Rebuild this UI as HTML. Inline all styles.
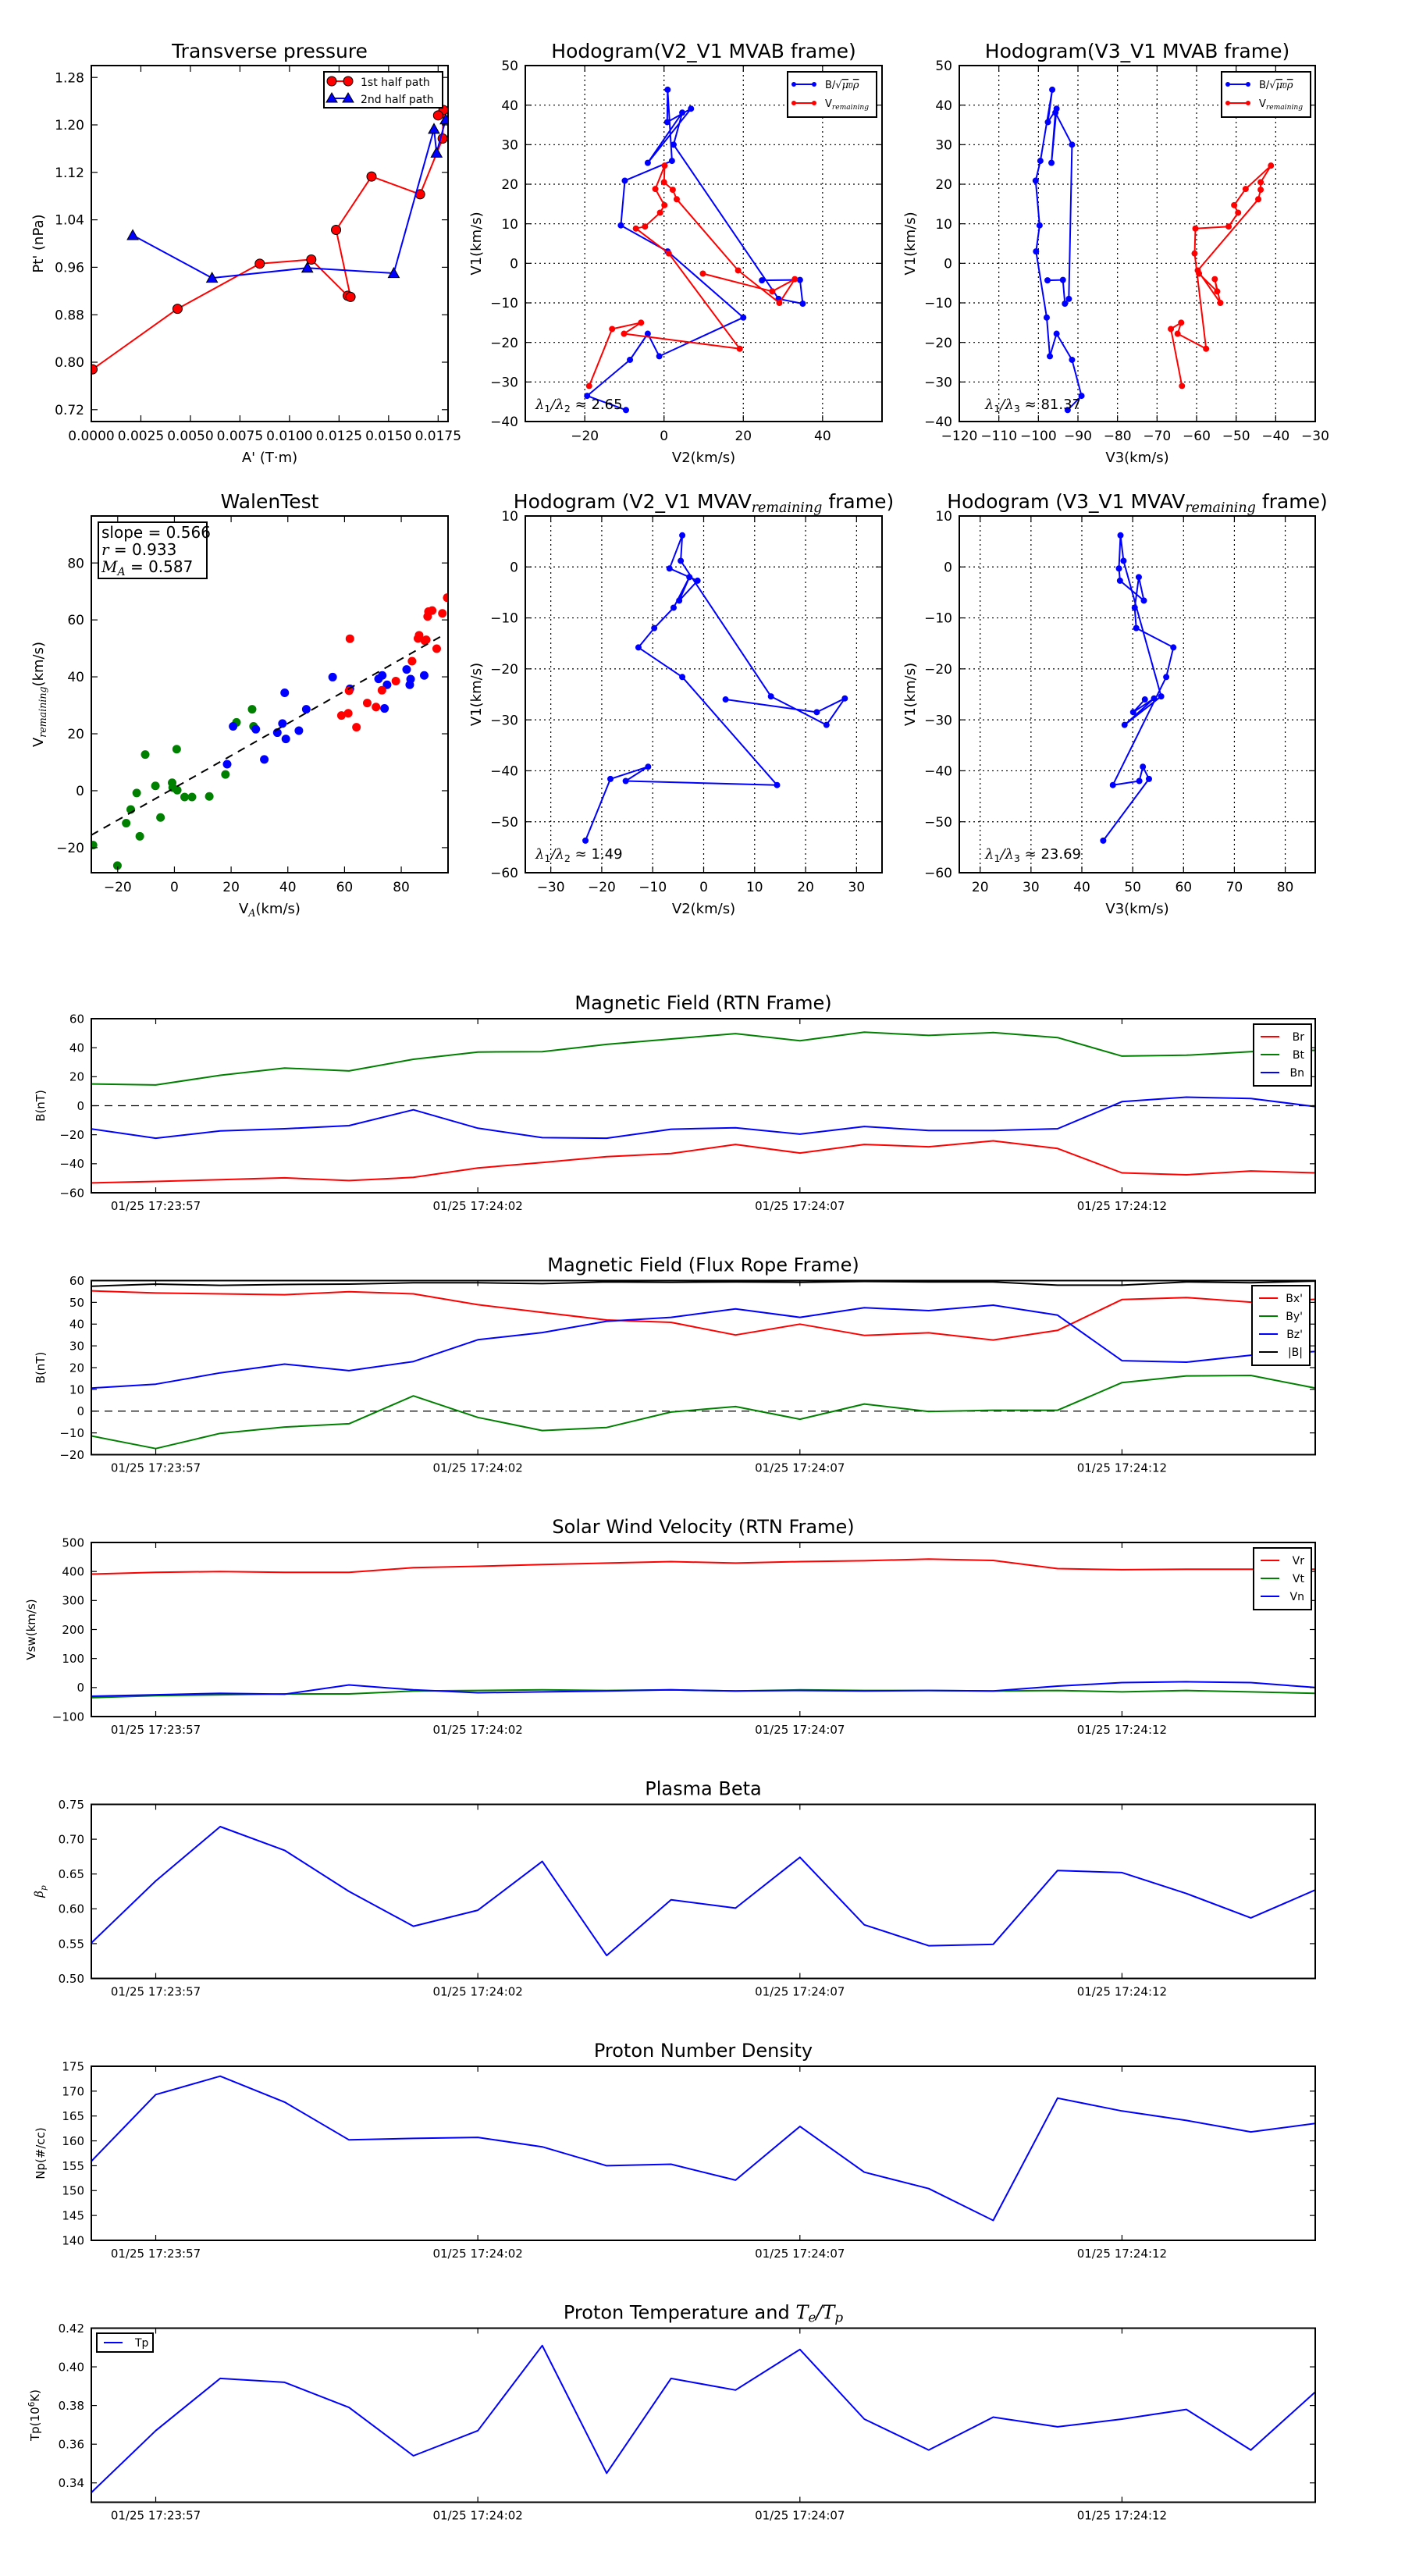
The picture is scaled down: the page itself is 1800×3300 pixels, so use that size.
<!DOCTYPE html>
<html><head><meta charset="utf-8"><title>Flux rope analysis</title>
<style>
html,body{margin:0;padding:0;background:#fff;}
svg{display:block;font-family:"DejaVu Sans","Liberation Sans",sans-serif;}
.m{font-family:"DejaVu Serif","Liberation Serif",serif;font-style:italic;}
</style></head>
<body>
<svg id="fig" xmlns="http://www.w3.org/2000/svg" width="1800" height="3300" viewBox="0 0 1800 3300">
<rect x="0" y="0" width="1800" height="3300" fill="#fff"/>
</svg>
<script>
// ---------- Transverse pressure ----------
const ptRedA = [0.00006,0.00435,0.0085,0.0111,0.01294,0.01308,0.01235,0.01414,0.01659,0.01773,0.01777,0.0175];
const ptRedP = [0.788,0.890,0.966,0.973,0.912,0.910,1.023,1.113,1.083,1.177,1.225,1.216];
const ptBlueA = [0.00209,0.00609,0.0109,0.01526,0.01729,0.01742,0.01788];
const ptBlueP = [1.014,0.942,0.959,0.950,1.193,1.153,1.209];
// ---------- Hodogram MVAB ----------
const mvabBV1 = [-4.3,-4.2,-10.2,-9.0,30.0,38.1,25.4,39.1,35.7,43.9,25.9,20.9,9.6,3.0,-13.7,-23.5,-17.8,-24.4,-33.5,-37.1];
const mvabBV2 = [24.7,34.3,35.0,28.9,2.4,4.6,-4.1,6.8,0.8,0.9,2.0,-9.9,-10.9,0.9,20.0,-1.2,-4.1,-8.6,-19.4,-9.6];
const mvabBV3 = [-97.7,-93.8,-93.3,-92.3,-91.5,-95.7,-96.7,-95.4,-97.6,-96.5,-99.5,-100.7,-99.7,-100.6,-97.9,-97.1,-95.4,-91.5,-89.1,-92.6];
const mvabVV1 = [-2.6,-7.1,-4.0,-10,-1.8,16.2,18.6,20.5,24.7,18.8,14.7,12.8,9.3,8.8,2.5,-21.6,-17.8,-15,-16.6,-31];
const mvabVV2 = [9.8,27.3,33,29.1,18.7,3.2,2.2,0.0,0.15,-2.2,0.1,-1.0,-4.8,-7.1,1.2,19.1,-10.1,-5.8,-13.1,-18.9];
const mvabVV3 = [-59.4,-54.8,-55.4,-54.0,-59.7,-44.4,-43.8,-43.8,-41.2,-47.6,-50.5,-49.5,-51.9,-60.3,-60.5,-57.6,-64.8,-63.9,-66.5,-63.7];
// ---------- Hodogram MVAV ----------
const mvavV1 = [-26.0,-28.5,-25.8,-31.0,-25.4,1.2,6.2,-0.3,-2.7,-6.6,-2.0,-8.0,-12.0,-15.8,-21.6,-42.8,-42.0,-39.2,-41.6,-53.7];
const mvavV2 = [4.3,22.2,27.7,24.1,13.2,-4.5,-4.2,-6.7,-1.2,-4.8,-2.8,-5.9,-9.7,-12.8,-4.2,14.4,-15.3,-10.9,-18.3,-23.2];
const mvavV3 = [52.4,50.1,54.2,48.4,55.6,48.2,47.6,47.3,47.5,52.2,51.2,50.4,50.7,58.0,56.6,46.1,51.3,52.0,53.2,44.2];
// ---------- Walen test ----------
const walenGreenX = [-28.7,-20.1,-17,-15.4,-13.3,-12.2,-10.3,-6.7,-4.9,-0.8,-0.6,0.8,1,3.6,6.2,12.3,18,21.9,27.4,27.9];
const walenGreenY = [-19.1,-26.3,-11.4,-6.6,-0.8,-16,12.7,1.7,-9.4,2.8,1.1,14.6,0.2,-2.2,-2.2,-2,5.7,24,28.6,22.6];
const walenBlueX = [18.6,20.7,28.7,31.7,36.3,38.1,38.9,39.3,43.9,46.5,55.8,61.9,72,73.3,74.1,75,81.9,83,83.3,88.1];
const walenBlueY = [9.3,22.6,21.6,11,20.4,23.6,34.4,18.2,21.1,28.6,39.9,35.8,39.3,40.5,28.9,37.2,42.6,37.2,39.2,40.5];
const walenRedX = [58.9,61.3,61.6,61.9,64.2,68,71.1,73.2,78.1,83.8,85.9,86.3,88.3,88.8,89.3,89.6,90.9,92.5,94.5,96.2];
const walenRedY = [26.4,27.2,35.1,53.4,22.3,30.8,29.4,35.3,38.5,45.5,53.5,54.6,52.7,53,61.2,62.9,63.3,49.9,62.3,67.8];
const walenSlope = [0.566];
const walenIntercept = [1.0];
// ---------- Time series ----------
const tSec = [56,57,58,59,60,61,62,63,64,65,66,67,68,69,70,71,72,73,74,75];
const timeTickSec = [57,62,67,72];
const timeTickLabels = ["01/25 17:23:57","01/25 17:24:02","01/25 17:24:07","01/25 17:24:12"];
const bRtnBr = [-53.2,-52.2,-51,-49.7,-51.6,-49.4,-42.9,-39.2,-35.1,-33,-26.7,-32.6,-26.7,-28.3,-24.2,-29.5,-46.3,-47.6,-45,-46.3];
const bRtnBt = [15,14.3,21,26,24,32,37,37.3,42.3,46,49.7,44.8,50.7,48.5,50.4,47,34.2,34.8,37.3,38.2];
const bRtnBn = [-16,-22.4,-17.4,-15.9,-13.7,-2.8,-15.5,-22,-22.4,-16.2,-15.2,-19.6,-14.3,-17.1,-17.1,-15.9,2.8,5.9,5,-0.6];
const bFrBx = [55.3,54.3,53.9,53.5,54.9,53.9,48.9,45.4,41.9,40.8,35,40,34.8,36,32.7,37.1,51.3,52.2,50.1,51.4];
const bFrBy = [-11.4,-17.2,-10.2,-7.3,-5.8,7,-2.9,-8.9,-7.5,-0.4,2.1,-3.7,3.3,-0.2,0.4,0.4,13.1,16.2,16.4,10.6];
const bFrBz = [10.6,12.4,17.6,21.6,18.6,22.8,32.8,36.1,41.3,43.1,47,43.1,47.5,46.2,48.7,44.1,23.2,22.5,25.7,27.4];
const bFrBt = [57.4,58.4,57.8,58.2,58.4,59,59,58.6,59.4,59.2,59.4,59.2,59.6,59.4,59.4,57.9,57.9,59.4,59,59.8];
const velVr = [391,397,400,397,397,413,418,424,429,434,429,434,437,443,438,410,406,408,408,408];
const velVt = [-35,-28,-25,-22,-22,-12,-10,-8,-10,-8,-12,-8,-10,-10,-12,-10,-15,-10,-15,-20];
const velVn = [-30,-25,-20,-23,9,-8,-18,-15,-12,-8,-12,-10,-12,-10,-12,5,17,20,17,0];
const betaP = [0.551,0.640,0.718,0.684,0.625,0.575,0.598,0.668,0.533,0.613,0.601,0.674,0.577,0.547,0.549,0.655,0.652,0.622,0.587,0.627];
const densNp = [155.9,169.3,173,167.8,160.2,160.5,160.7,158.8,155,155.3,152.1,162.9,153.7,150.4,144,168.6,166,164.1,161.8,163.5];
const tempTp = [0.335,0.367,0.394,0.392,0.379,0.354,0.367,0.411,0.345,0.394,0.388,0.409,0.373,0.357,0.374,0.369,0.373,0.378,0.357,0.387];

const NS = 'http://www.w3.org/2000/svg';
const svg = document.getElementById('fig');
function mk(tag, attrs, parent){
  const e = document.createElementNS(NS, tag);
  for (const k in attrs) e.setAttribute(k, attrs[k]);
  (parent || svg).appendChild(e);
  return e;
}
function lin(d0,d1,r0,r1){ return v => r0 + (v-d0)/(d1-d0)*(r1-r0); }
function range(a,b,s){ const r=[]; for(let v=a; v<=b+s*1e-6; v+=s) r.push(+v.toFixed(6)); return r; }
function fmtNum(v, d){ const s = Math.abs(v).toFixed(d); return (v < -1e-9 ? '\u2212' : '') + s; }

function axes(o){
  const g = mk('g', {});
  
  
  const sx = lin(o.xmin, o.xmax, o.x0, o.x1);
  const sy = lin(o.ymin, o.ymax, o.y1, o.y0);
  const cid = 'clip-' + o.name;
  const cp = mk('clipPath', {id: cid}, g);
  mk('rect', {x:o.x0, y:o.y0, width:o.x1-o.x0, height:o.y1-o.y0}, cp);
  const tl = o.tickLen || 8;
  if (o.grid){
    const gg = mk('g', {stroke:'#000', 'stroke-width':1.2, 'stroke-dasharray':'2,4'}, g);
    
    
    o.xticks.forEach(v => { const l = mk('line', {x1:sx(v), x2:sx(v), y1:o.y0, y2:o.y1}, gg);
      
       });
    o.yticks.forEach(v => { const l = mk('line', {x1:o.x0, x2:o.x1, y1:sy(v), y2:sy(v)}, gg);
      
       });
  }
  const dg = mk('g', {'clip-path': 'url(#' + cid + ')'}, g);
  
  
  const tg = mk('g', {stroke:'#000', 'stroke-width':1.2}, g);
  
  
  o.xticks.forEach((v,i) => {
    const x = sx(v);
    mk('line', {x1:x, x2:x, y1:o.y1, y2:o.y1-tl}, tg);
    mk('line', {x1:x, x2:x, y1:o.y0, y2:o.y0+tl}, tg);
    const t = mk('text', {x:x, y:o.y1 + (o.xlabOff||24), 'text-anchor':'middle', 'font-size':o.tickFs||18, fill:'#000', stroke:'none'}, g);
    t.textContent = o.xlabels ? o.xlabels[i] : o.xfmt(v);
    
    
  });
  o.yticks.forEach(v => {
    const y = sy(v);
    mk('line', {x1:o.x0, x2:o.x0+tl, y1:y, y2:y}, tg);
    mk('line', {x1:o.x1, x2:o.x1-tl, y1:y, y2:y}, tg);
    const t = mk('text', {x:o.x0 - 9, y:y + (o.tickFs||18)*0.36, 'text-anchor':'end', 'font-size':o.tickFs||18, fill:'#000'}, g);
    t.textContent = o.yfmt(v);
    
    
  });
  const fr = mk('rect', {x:o.x0, y:o.y0, width:o.x1-o.x0, height:o.y1-o.y0, fill:'none', stroke:'#000', 'stroke-width':2}, g);
  
  
  if (o.title){
    const t = mk('text', {x:(o.x0+o.x1)/2, y:o.y0 - (o.titleOff||10), 'text-anchor':'middle', 'font-size':o.titleFs||25, fill:'#000'}, g);
    t.innerHTML = o.title;
    
    
  }
  if (o.xlabel){
    const t = mk('text', {x:(o.x0+o.x1)/2, y:o.y1 + 52, 'text-anchor':'middle', 'font-size':18, fill:'#000'}, g);
    t.innerHTML = o.xlabel;
    
    
  }
  if (o.ylabel){
    const cy = (o.y0+o.y1)/2;
    const t = mk('text', {x:o.ylx, y:cy, 'text-anchor':'middle', 'font-size':o.ylFs||18, fill:'#000', transform:'rotate(-90 '+o.ylx+' '+cy+')'}, g);
    t.innerHTML = o.ylabel;
    
    
  }
  return {sx, sy, dg, g};
}
function polyline(ax, xs, ys, color, w, name){
  const pts = xs.map((x,i) => ax.sx(x).toFixed(1) + ',' + ax.sy(ys[i]).toFixed(1)).join(' ');
  const p = mk('polyline', {points:pts, fill:'none', stroke:color, 'stroke-width':w||2, 'stroke-linejoin':'round'}, ax.dg);
  
  
  return p;
}
function dots(ax, xs, ys, color, r, name, edge){
  xs.forEach((x,i) => {
    const c = mk('circle', {cx:ax.sx(x), cy:ax.sy(ys[i]), r:r, fill:color, stroke:edge||color, 'stroke-width':1}, ax.dg);
    
    
  });
}
function tris(ax, xs, ys, color, s, name){
  xs.forEach((x,i) => {
    const cx = ax.sx(x), cy = ax.sy(ys[i]);
    const p = mk('polygon', {points:`${cx},${cy-s} ${cx-s},${cy+s*0.8} ${cx+s},${cy+s*0.8}`, fill:color, stroke:'#000', 'stroke-width':1}, ax.dg);
    
    
  });
}
function legendBox(x, y, w, h, name){
  const r = mk('rect', {x:x, y:y, width:w, height:h, fill:'#fff', stroke:'#000', 'stroke-width':2});
  
  
}
function legendLine(x1, x2, y, color, w, name){
  const l = mk('line', {x1:x1, x2:x2, y1:y, y2:y, stroke:color, 'stroke-width':w});
  
  
}
function label(x, y, html, fs, anchor, name){
  const t = mk('text', {x:x, y:y, 'font-size':fs, 'text-anchor':anchor||'start', fill:'#000'});
  t.innerHTML = html;
  
  
  return t;
}

// ===== Panel 1: Transverse pressure =====
const ax1 = axes({name:'transverse-pressure', x0:117, x1:574, y0:84, y1:540, xmin:0, xmax:0.018, ymin:0.70, ymax:1.30,
  xticks:range(0,0.0175,0.0025), yticks:range(0.72,1.28,0.08), xfmt:v=>v.toFixed(4), yfmt:v=>v.toFixed(2),
  title:'Transverse pressure', xlabel:"A' (T\u00b7m)", ylabel:"Pt' (nPa)", ylx:55, tickFs:17});
polyline(ax1, ptRedA, ptRedP, '#f00', 2, 'first-half-path-line');
dots(ax1, ptRedA, ptRedP, '#f00', 6, 'first-half-point', '#000');
polyline(ax1, ptBlueA, ptBlueP, '#00f', 2, 'second-half-path-line');
tris(ax1, ptBlueA, ptBlueP, '#00f', 7, 'second-half-point');
legendBox(415, 92, 152, 46, 'pressure-legend');
legendLine(425, 446, 104, '#f00', 2, 'legend-first-half-line');
legendLine(425, 446, 126, '#00f', 2, 'legend-second-half-line');
[425,446].forEach(x => { const c = mk('circle', {cx:x, cy:104, r:6, fill:'#f00', stroke:'#000'});
  
  
  const p = mk('polygon', {points:`${x},${119} ${x-7},${131} ${x+7},${131}`, fill:'#00f', stroke:'#000'});
  
   });
label(462, 110, '1st half path', 14, 'start', 'legend-first-half-label');
label(462, 132, '2nd half path', 14, 'start', 'legend-second-half-label');

// ===== Hodogram helpers =====
function hodoLegend(x, name){
  legendBox(x, 92, 114, 58, name);
  legendLine(x+8, x+34, 108, '#00f', 2, 'legend-b-line');
  legendLine(x+8, x+34, 132, '#f00', 2, 'legend-v-line');
  [x+8, x+34].forEach(cx => {
    const a = mk('circle', {cx:cx, cy:108, r:3, fill:'#00f'});
    
    
    const b = mk('circle', {cx:cx, cy:132, r:3, fill:'#f00'});
    
    
  });
  label(x+48, 113, 'B/\u221a<tspan class="m" text-decoration="overline">\u03bc<tspan font-size="70%">0</tspan>\u03c1</tspan>', 13, 'start', 'legend-b-label');
  label(x+48, 137, 'V<tspan class="m" font-size="70%" dy="3">remaining</tspan>', 13, 'start', 'legend-v-label');
}
const hodoFmt = v => fmtNum(v, 0);

// ===== Panel 2: Hodogram V2_V1 MVAB =====
const ax2 = axes({name:'hodogram-v2-v1-mvab', x0:673, x1:1130, y0:84, y1:540, xmin:-35, xmax:55, ymin:-40, ymax:50,
  xticks:[-20,0,20,40], yticks:range(-40,50,10), xfmt:hodoFmt, yfmt:hodoFmt, grid:true,
  title:'Hodogram(V2_V1 MVAB frame)', xlabel:'V2(km/s)', ylabel:'V1(km/s)', ylx:616, tickFs:17});
polyline(ax2, mvabBV2, mvabBV1, '#00f', 2, 'b-hodogram-line');
dots(ax2, mvabBV2, mvabBV1, '#00f', 3.5, 'b-hodogram-point');
polyline(ax2, mvabVV2, mvabVV1, '#f00', 2, 'v-hodogram-line');
dots(ax2, mvabVV2, mvabVV1, '#f00', 3.5, 'v-hodogram-point');
hodoLegend(1009, 'hodogram-mvab-v2-legend');
label(686, 524, '<tspan class="m">\u03bb</tspan><tspan font-size="70%" dy="4">1</tspan><tspan dy="-4" class="m">/\u03bb</tspan><tspan font-size="70%" dy="4">2</tspan><tspan dy="-4"> \u2248 2.65</tspan>', 18, 'start', 'eigenvalue-ratio-label');

// ===== Panel 3: Hodogram V3_V1 MVAB =====
const ax3 = axes({name:'hodogram-v3-v1-mvab', x0:1229, x1:1685, y0:84, y1:540, xmin:-120, xmax:-30, ymin:-40, ymax:50,
  xticks:range(-120,-30,10), yticks:range(-40,50,10), xfmt:hodoFmt, yfmt:hodoFmt, grid:true,
  title:'Hodogram(V3_V1 MVAB frame)', xlabel:'V3(km/s)', ylabel:'V1(km/s)', ylx:1172, tickFs:17});
polyline(ax3, mvabBV3, mvabBV1, '#00f', 2, 'b-hodogram-line');
dots(ax3, mvabBV3, mvabBV1, '#00f', 3.5, 'b-hodogram-point');
polyline(ax3, mvabVV3, mvabVV1, '#f00', 2, 'v-hodogram-line');
dots(ax3, mvabVV3, mvabVV1, '#f00', 3.5, 'v-hodogram-point');
hodoLegend(1565, 'hodogram-mvab-v3-legend');
label(1262, 524, '<tspan class="m">\u03bb</tspan><tspan font-size="70%" dy="4">1</tspan><tspan dy="-4" class="m">/\u03bb</tspan><tspan font-size="70%" dy="4">3</tspan><tspan dy="-4"> \u2248 81.37</tspan>', 18, 'start', 'eigenvalue-ratio-label');

// ===== Panel 4: Walen test =====
const ax4 = axes({name:'walen-test', x0:117, x1:574, y0:661, y1:1118, xmin:-29.3, xmax:96.5, ymin:-28.8, ymax:96.5,
  xticks:[-20,0,20,40,60,80], yticks:[-20,0,20,40,60,80], xfmt:hodoFmt, yfmt:hodoFmt,
  title:'WalenTest', xlabel:'V<tspan class="m" font-size="70%" dy="4">A</tspan><tspan dy="-4">(km/s)</tspan>',
  ylabel:'V<tspan class="m" font-size="70%" dy="4">remaining</tspan><tspan dy="-4">(km/s)</tspan>', ylx:55, tickFs:17});
dots(ax4, walenGreenX, walenGreenY, '#008000', 5, 'walen-point-green');
dots(ax4, walenBlueX, walenBlueY, '#00f', 5, 'walen-point-blue');
dots(ax4, walenRedX, walenRedY, '#f00', 5, 'walen-point-red');
{
  const xa = -29.3, xb = 94.1;
  const fit = mk('line', {x1:ax4.sx(xa), y1:ax4.sy(walenIntercept[0]+walenSlope[0]*xa), x2:ax4.sx(xb), y2:ax4.sy(walenIntercept[0]+walenSlope[0]*xb),
    stroke:'#000', 'stroke-width':2, 'stroke-dasharray':'10,8'}, ax4.dg);
  
  
}
legendBox(126, 669, 139, 72, 'walen-stats-box');
label(130, 689, 'slope = 0.566', 20, 'start', 'walen-slope-label');
label(130, 711, '<tspan class="m">r</tspan> = 0.933', 20, 'start', 'walen-r-label');
label(130, 733, '<tspan class="m">M</tspan><tspan class="m" font-size="70%" dy="4">A</tspan><tspan dy="-4"> = 0.587</tspan>', 20, 'start', 'walen-ma-label');

// ===== Panel 5: Hodogram V2_V1 MVAV =====
const mvavTitle = n => `Hodogram (${n} MVAV<tspan class="m" font-size="70%" dy="5">remaining</tspan><tspan dy="-5"> frame)</tspan>`;
const ax5 = axes({name:'hodogram-v2-v1-mvav', x0:673, x1:1130, y0:661, y1:1118, xmin:-35, xmax:35, ymin:-60, ymax:10,
  xticks:range(-30,30,10), yticks:range(-60,10,10), xfmt:hodoFmt, yfmt:hodoFmt, grid:true,
  title:mvavTitle('V2_V1'), xlabel:'V2(km/s)', ylabel:'V1(km/s)', ylx:616, tickFs:17});
polyline(ax5, mvavV2, mvavV1, '#00f', 2, 'hodogram-line');
dots(ax5, mvavV2, mvavV1, '#00f', 3.5, 'hodogram-point');
label(686, 1100, '<tspan class="m">\u03bb</tspan><tspan font-size="70%" dy="4">1</tspan><tspan dy="-4" class="m">/\u03bb</tspan><tspan font-size="70%" dy="4">2</tspan><tspan dy="-4"> \u2248 1.49</tspan>', 18, 'start', 'eigenvalue-ratio-label');

// ===== Panel 6: Hodogram V3_V1 MVAV =====
const ax6 = axes({name:'hodogram-v3-v1-mvav', x0:1229, x1:1685, y0:661, y1:1118, xmin:15.9, xmax:85.9, ymin:-60, ymax:10,
  xticks:range(20,80,10), yticks:range(-60,10,10), xfmt:hodoFmt, yfmt:hodoFmt, grid:true,
  title:mvavTitle('V3_V1'), xlabel:'V3(km/s)', ylabel:'V1(km/s)', ylx:1172, tickFs:17});
polyline(ax6, mvavV3, mvavV1, '#00f', 2, 'hodogram-line');
dots(ax6, mvavV3, mvavV1, '#00f', 3.5, 'hodogram-point');
label(1262, 1100, '<tspan class="m">\u03bb</tspan><tspan font-size="70%" dy="4">1</tspan><tspan dy="-4" class="m">/\u03bb</tspan><tspan font-size="70%" dy="4">3</tspan><tspan dy="-4"> \u2248 23.69</tspan>', 18, 'start', 'eigenvalue-ratio-label');

// ===== Time series =====
function tsAxes(name, top, ymin, ymax, tickStart, step, dec, title, ylabel, ylx){
  return axes({name:name, x0:117, x1:1685, y0:top, y1:top+223, xmin:56, xmax:75, ymin:ymin, ymax:ymax,
    xticks:timeTickSec, xlabels:timeTickLabels, yticks:range(tickStart, ymax, step), yfmt:v=>fmtNum(v, dec),
    title:title, titleFs:24, titleOff:12, ylabel:ylabel, ylx:ylx, ylFs:15, tickFs:15, tickLen:7, xlabOff:22});
}
function zeroLine(ax, name){
  const l = mk('line', {x1:117, x2:1685, y1:ax.sy(0), y2:ax.sy(0), stroke:'#000', 'stroke-width':1.2, 'stroke-dasharray':'10,7'}, ax.dg);
  
  
}
function tsLegend(x, y, entries, name){
  legendBox(x, y, 74, 10 + entries.length*23, name);
  entries.forEach((e,i) => {
    const yy = y + 16 + i*23;
    legendLine(x+9, x+33, yy, e[1], 2, 'legend-line-' + e[2]);
    label(x+65, yy+5, e[0], 14, 'end', 'legend-label-' + e[2]);
  });
}

const tsB = tsAxes('magnetic-field-rtn', 1305, -60, 60, -60, 20, 0, 'Magnetic Field (RTN Frame)', 'B(nT)', 57);
zeroLine(tsB, 'zero-line');
polyline(tsB, tSec, bRtnBr, '#f00', 2, 'br-line');
polyline(tsB, tSec, bRtnBt, '#008000', 2, 'bt-line');
polyline(tsB, tSec, bRtnBn, '#00f', 2, 'bn-line');
tsLegend(1606, 1312, [['Br','#f00','br'],['Bt','#008000','bt'],['Bn','#00f','bn']], 'b-rtn-legend');

const tsF = tsAxes('magnetic-field-flux-rope', 1640.5, -20, 60, -20, 10, 0, 'Magnetic Field (Flux Rope Frame)', 'B(nT)', 57);
zeroLine(tsF, 'zero-line');
polyline(tsF, tSec, bFrBx, '#f00', 2, 'bx-line');
polyline(tsF, tSec, bFrBy, '#008000', 2, 'by-line');
polyline(tsF, tSec, bFrBz, '#00f', 2, 'bz-line');
polyline(tsF, tSec, bFrBt, '#000', 2, 'btotal-line');
tsLegend(1604, 1647, [["Bx'",'#f00','bx'],["By'",'#008000','by'],["Bz'",'#00f','bz'],['|B|','#000','btotal']], 'b-flux-rope-legend');

const tsV = tsAxes('solar-wind-velocity', 1976, -100, 500, -100, 100, 0, 'Solar Wind Velocity (RTN Frame)', 'Vsw(km/s)', 45);
polyline(tsV, tSec, velVr, '#f00', 2, 'vr-line');
polyline(tsV, tSec, velVt, '#008000', 2, 'vt-line');
polyline(tsV, tSec, velVn, '#00f', 2, 'vn-line');
tsLegend(1606, 1983, [['Vr','#f00','vr'],['Vt','#008000','vt'],['Vn','#00f','vn']], 'velocity-legend');

const tsBeta = tsAxes('plasma-beta', 2311.5, 0.50, 0.75, 0.50, 0.05, 2, 'Plasma Beta', '<tspan class="m">\u03b2</tspan><tspan class="m" font-size="70%" dy="4">p</tspan>', 55);
polyline(tsBeta, tSec, betaP, '#00f', 2, 'beta-line');

const tsN = tsAxes('proton-number-density', 2647, 140, 175, 140, 5, 0, 'Proton Number Density', 'Np(#/cc)', 57);
polyline(tsN, tSec, densNp, '#00f', 2, 'density-line');

const tsT = tsAxes('proton-temperature', 2982.5, 0.33, 0.42, 0.34, 0.02, 2, 'Proton Temperature and <tspan class="m">T</tspan><tspan class="m" font-size="70%" dy="4">e</tspan><tspan class="m" dy="-4">/T</tspan><tspan class="m" font-size="70%" dy="4">p</tspan>', 'Tp(10<tspan font-size="70%" dy="-6">6</tspan><tspan dy="6">K)</tspan>', 50);
polyline(tsT, tSec, tempTp, '#00f', 2, 'temperature-line');
legendBox(124, 2989, 72, 24, 'temperature-legend');
legendLine(133, 157, 3001, '#00f', 2, 'legend-line-tp');
label(173, 3006, 'Tp', 14, 'start', 'legend-label-tp');
</script>
</body></html>
